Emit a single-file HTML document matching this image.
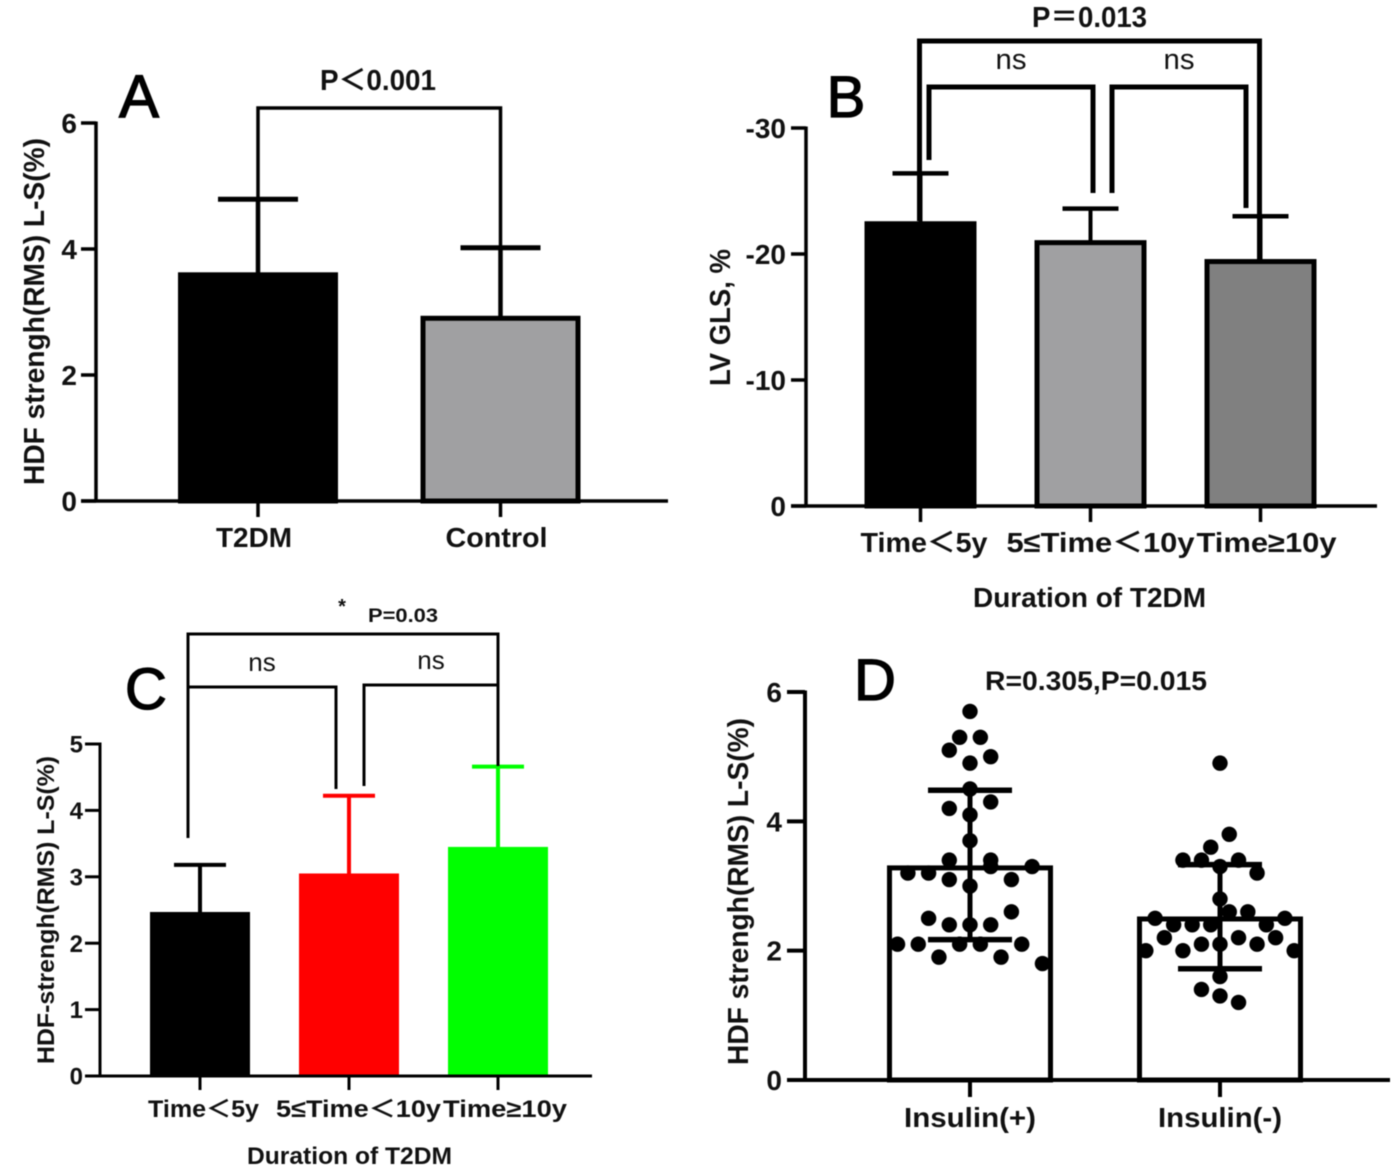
<!DOCTYPE html>
<html lang="en">
<head>
<meta charset="utf-8">
<title>HDF strength and LV GLS panels</title>
<style>
html,body{margin:0;padding:0;background:#fff;width:1395px;height:1174px;overflow:hidden}
svg{display:block;filter:blur(0.6px)}
text{font-family:"Liberation Sans","Noto Sans CJK SC",sans-serif;fill:#111}
.b{font-weight:bold}
.letter{fill:#000;stroke:#000;stroke-width:1.3px}
</style>
</head>
<body>
<svg id="figure" xmlns="http://www.w3.org/2000/svg" width="1395" height="1174" viewBox="0 0 1395 1174">
<rect width="1395" height="1174" fill="#fff"/>

<g id="panel-a"></g>
<g id="panel-b"></g>
<g id="panel-c"></g>
<g id="panel-d"></g>

<g fill="none" stroke="#000">
  <path d="M258 272V108H500.5V318" stroke-width="3.5"/>
  <path d="M919.5 221V41H1259.5V260" stroke-width="5"/>
  <path d="M929 160V87H1093V193" stroke-width="5"/>
  <path d="M1112 193V87H1246V208" stroke-width="5"/>
  <path d="M188 838V634H498V766" stroke-width="3"/>
  <path d="M188 687H336V789" stroke-width="3"/>
  <path d="M364 786V685H498" stroke-width="3"/>
</g>

<text class="letter" x="139" y="117" font-size="60" text-anchor="middle">A</text>
<text class="letter" x="846" y="117" font-size="58" text-anchor="middle">B</text>
<text class="letter" x="146" y="709" font-size="58" text-anchor="middle">C</text>
<text class="letter" x="875" y="700" font-size="58" text-anchor="middle">D</text>

<text class="b" x="320" y="90" font-size="29" textLength="116" lengthAdjust="spacingAndGlyphs">P＜0.001</text>
<text class="b" x="1032" y="27" font-size="29" textLength="115" lengthAdjust="spacingAndGlyphs">P＝0.013</text>
<text x="1011" y="69" font-size="29" text-anchor="middle" textLength="31" lengthAdjust="spacingAndGlyphs">ns</text>
<text x="1179" y="69" font-size="29" text-anchor="middle" textLength="31" lengthAdjust="spacingAndGlyphs">ns</text>
<text class="b" x="342" y="613" font-size="20" text-anchor="middle">*</text>
<text class="b" x="368" y="622" font-size="19" textLength="70" lengthAdjust="spacingAndGlyphs">P=0.03</text>
<text x="262" y="671" font-size="26" text-anchor="middle">ns</text>
<text x="431" y="669" font-size="26" text-anchor="middle">ns</text>
<text class="b" x="985" y="690" font-size="27" textLength="222" lengthAdjust="spacingAndGlyphs">R=0.305,P=0.015</text>

<text class="b" transform="translate(44,485) rotate(-90)" font-size="29" textLength="347" lengthAdjust="spacingAndGlyphs">HDF strengh(RMS) L-S(%)</text>
<text class="b" transform="translate(730,386) rotate(-90)" font-size="29" textLength="137" lengthAdjust="spacingAndGlyphs">LV GLS, %</text>
<text class="b" transform="translate(54,1064) rotate(-90)" font-size="24" textLength="308" lengthAdjust="spacingAndGlyphs">HDF-strengh(RMS) L-S(%)</text>
<text class="b" transform="translate(748,1065) rotate(-90)" font-size="29" textLength="347" lengthAdjust="spacingAndGlyphs">HDF strengh(RMS) L-S(%)</text>

<text class="b" x="973" y="607" font-size="28" textLength="233" lengthAdjust="spacingAndGlyphs">Duration of T2DM</text>
<text class="b" x="247" y="1164" font-size="24" textLength="205" lengthAdjust="spacingAndGlyphs">Duration of T2DM</text>
</svg>

<script>
// Panel A
const panelACategories = ['T2DM', 'Control'];
const panelAMeans = [3.63, 2.94];
const panelAUpper = [4.79, 4.02];
const panelATicks = [0, 2, 4, 6];

// Panel B
const panelBCategories = ['Time＜5y', '5≤Time＜10y', 'Time≥10y'];
const panelBMeans = [-22.6, -21.1, -19.6];
const panelBUpper = [-26.4, -23.6, -23.0];
const panelBTicks = [0, -10, -20, -30];

// Panel C
const panelCCategories = ['Time＜5y', '5≤Time＜10y', 'Time≥10y'];
const panelCMeans = [2.47, 3.05, 3.45];
const panelCUpper = [3.18, 4.22, 4.66];
const panelCTicks = [0, 1, 2, 3, 4, 5];

// Panel D
const panelDCategories = ['Insulin(+)', 'Insulin(-)'];
const panelDMeans = [3.28, 2.49];
const panelDUpper = [4.48, 3.33];
const panelDLower = [2.17, 1.72];
const panelDTicks = [0, 2, 4, 6];
const insulinPosValues = [5.7,5.3,5.3,5.1,5.0,4.9,4.5,4.2,4.3,4.1,3.7,3.4,3.4,3.3,3.2,3.2,3.3,3.1,3.1,3.0,2.6,2.5,2.4,2.4,2.4,2.1,2.1,2.1,2.1,2.1,1.9,1.9,1.8];
const insulinPosSwarmSlots = [0,-1,1,-2,2,0,0,-2,2,0,0,-2,2,6,-6,-4,2,-2,4,0,4,-4,-2,0,2,-7,-5,-1,1,5,-3,3,7];
const insulinNegValues = [4.9,3.8,3.6,3.4,3.4,3.4,3.3,3.2,2.8,2.6,2.6,2.5,2.5,2.4,2.4,2.4,2.4,2.2,2.2,2.2,2.1,2.1,2.1,2.0,2.0,2.0,1.6,1.4,1.3,1.2];
const insulinNegSwarmSlots = [0,1,-1,-4,-2,2,0,4,0,1,3,-7,7,-5,-3,-1,5,-6,2,6,-2,0,4,-8,-4,8,0,-2,0,2];

const NS = 'http://www.w3.org/2000/svg';
function el(tag, attrs, parent) {
  const node = document.createElementNS(NS, tag);
  for (const key in attrs) node.setAttribute(key, attrs[key]);
  parent.appendChild(node);
  return node;
}
function linearScale(domainMax, y0, yTop) {
  return function (v) { return y0 + (v / domainMax) * (yTop - y0); };
}
function drawAxes(cfg, yScale, xScale, categories, ticks, group) {
  const yAxis = el('line', {x1: cfg.axisX, x2: cfg.axisX, y1: yScale(ticks[ticks.length - 1]) - 1.5, y2: cfg.y0, stroke: '#000', 'stroke-width': cfg.axisWidth}, group);
  
  
  const xAxis = el('line', {x1: cfg.axisX - cfg.yTickLen, x2: cfg.axisEnd, y1: cfg.y0, y2: cfg.y0, stroke: '#000', 'stroke-width': cfg.axisWidth}, group);
  
  
  ticks.forEach(function (t) {
    const y = yScale(t);
    const tick = el('line', {x1: cfg.axisX - cfg.yTickLen, x2: cfg.axisX, y1: y, y2: y, stroke: '#000', 'stroke-width': cfg.axisWidth}, group);
    
    
    const label = el('text', {x: cfg.yLabelX, y: y + cfg.tickFont * 0.36, 'font-size': cfg.tickFont, 'text-anchor': 'end', class: 'b'}, group);
    
    
    label.textContent = String(t);
  });
  categories.forEach(function (name, i) {
    const x = xScale(i);
    const tick = el('line', {x1: x, x2: x, y1: cfg.y0, y2: cfg.y0 + cfg.xTickLen, stroke: '#000', 'stroke-width': cfg.axisWidth}, group);
    
    
    const box = cfg.labelBoxes[i];
    const label = el('text', {x: x + box[0], y: cfg.labelY, 'font-size': cfg.labelFont, textLength: box[1], lengthAdjust: 'spacingAndGlyphs', class: 'b'}, group);
    
    
    label.textContent = name;
  });
}
function drawBarPanel(cfg, categories, means, upper, ticks, domainMax) {
  const group = document.getElementById(cfg.id);
  const yScale = linearScale(domainMax, cfg.y0, cfg.yTop);
  const xScale = function (i) { return cfg.x0 + i * cfg.step; };
  means.forEach(function (m, i) {
    const x = xScale(i);
    const color = cfg.errColors[i];
    const stem = el('line', {x1: x, x2: x, y1: yScale(m) + 2, y2: yScale(upper[i]), stroke: color, 'stroke-width': cfg.stemWidth}, group);
    
    
    const cap = el('line', {x1: x - cfg.capHalf, x2: x + cfg.capHalf, y1: yScale(upper[i]), y2: yScale(upper[i]), stroke: color, 'stroke-width': cfg.capWidth}, group);
    
    
    const inset = cfg.barStroke / 2;
    const bar = el('rect', {x: x - cfg.barHalf + inset, y: yScale(m) + inset, width: 2 * cfg.barHalf - cfg.barStroke, height: cfg.y0 - yScale(m) - inset, fill: cfg.fills[i], stroke: cfg.strokes[i], 'stroke-width': cfg.barStroke}, group);
    
    
  });
  drawAxes(cfg, yScale, xScale, categories, ticks, group);
}

drawBarPanel({
  id: 'panel-a', x0: 258, step: 242.5, y0: 501, yTop: 123, axisX: 96, axisEnd: 668, axisWidth: 3.5,
  yTickLen: 15, xTickLen: 16, yLabelX: 77, tickFont: 28, labelFont: 28, labelY: 547,
  labelBoxes: [[-42, 76], [-55, 102]],
  barHalf: 80, barStroke: 5, stemWidth: 4.5, capHalf: 40, capWidth: 5,
  fills: ['#000', '#a0a0a2'], strokes: ['#000', '#000'], errColors: ['#000', '#000']
}, panelACategories, panelAMeans, panelAUpper, panelATicks, 6);

drawBarPanel({
  id: 'panel-b', x0: 920.5, step: 170, y0: 506, yTop: 128, axisX: 806, axisEnd: 1377, axisWidth: 3.5,
  yTickLen: 15, xTickLen: 16, yLabelX: 786, tickFont: 28, labelFont: 28, labelY: 552,
  labelBoxes: [[-60, 127], [-84, 188], [-64, 140]],
  barHalf: 56, barStroke: 5, stemWidth: 4, capHalf: 28, capWidth: 4.5,
  fills: ['#000', '#a0a0a2', '#808080'], strokes: ['#000', '#000', '#000'], errColors: ['#000', '#000', '#000']
}, panelBCategories, panelBMeans, panelBUpper, panelBTicks, -30);

drawBarPanel({
  id: 'panel-c', x0: 200, step: 149, y0: 1076, yTop: 744, axisX: 100, axisEnd: 592, axisWidth: 3,
  yTickLen: 15, xTickLen: 14, yLabelX: 83, tickFont: 24, labelFont: 24, labelY: 1117,
  labelBoxes: [[-52, 111], [-73, 165], [-55, 124]],
  barHalf: 50, barStroke: 0, stemWidth: 4, capHalf: 26, capWidth: 4,
  fills: ['#000', '#ff0000', '#00ff00'], strokes: ['none', 'none', 'none'], errColors: ['#000', '#ff0000', '#00ff00']
}, panelCCategories, panelCMeans, panelCUpper, panelCTicks, 5);

(function drawPanelD() {
  const cfg = {
    id: 'panel-d', x0: 970, step: 250, y0: 1080, yTop: 692, axisX: 805, axisEnd: 1390, axisWidth: 4,
    yTickLen: 18, xTickLen: 17, yLabelX: 782, tickFont: 28, labelFont: 28, labelY: 1127,
    labelBoxes: [[-66, 132], [-62, 124]]
  };
  const group = document.getElementById(cfg.id);
  const yScale = linearScale(6, cfg.y0, cfg.yTop);
  const xScale = function (i) { return cfg.x0 + i * cfg.step; };
  const valueSets = [insulinPosValues, insulinNegValues];
  const slotSets = [insulinPosSwarmSlots, insulinNegSwarmSlots];
  const slotWidths = [10.35, 9.27];
  panelDMeans.forEach(function (m, i) {
    const x = xScale(i);
    const bar = el('rect', {x: x - 80.5, y: yScale(m), width: 161, height: cfg.y0 - yScale(m), fill: 'none', stroke: '#000', 'stroke-width': 5}, group);
    
    
    const stem = el('line', {x1: x, x2: x, y1: yScale(panelDLower[i]), y2: yScale(panelDUpper[i]), stroke: '#000', 'stroke-width': 5}, group);
    
    
    const capTop = el('line', {x1: x - 42, x2: x + 42, y1: yScale(panelDUpper[i]), y2: yScale(panelDUpper[i]), stroke: '#000', 'stroke-width': 5.5}, group);
    
    
    const capLow = el('line', {x1: x - 42, x2: x + 42, y1: yScale(panelDLower[i]), y2: yScale(panelDLower[i]), stroke: '#000', 'stroke-width': 5.5}, group);
    
    
    valueSets[i].forEach(function (v, j) {
      const dot = el('circle', {cx: x + slotSets[i][j] * slotWidths[i], cy: yScale(v), r: 7.7, fill: '#000'}, group);
      
      
    });
  });
  drawAxes(cfg, yScale, xScale, panelDCategories, panelDTicks, group);
})();
</script>
</body>
</html>
